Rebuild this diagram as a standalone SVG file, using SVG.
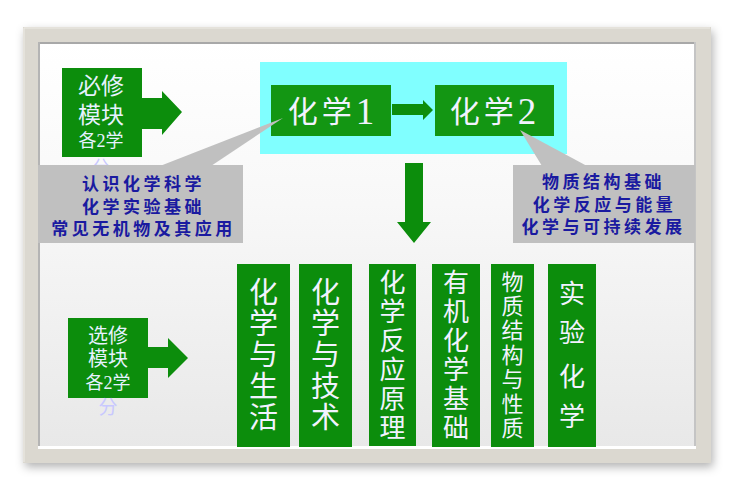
<svg xmlns="http://www.w3.org/2000/svg" width="736" height="492" viewBox="0 0 736 492">
<defs>
<linearGradient id="bg" x1="0" y1="0" x2="0" y2="1">
<stop offset="0" stop-color="#ffffff"/>
<stop offset="0.4" stop-color="#f8f8f8"/>
<stop offset="1" stop-color="#e8e8e8"/>
</linearGradient>
<filter id="sh" x="-5%" y="-5%" width="110%" height="115%">
<feDropShadow dx="2" dy="4" stdDeviation="5" flood-color="#000" flood-opacity="0.3"/>
</filter>
</defs>
<style>
.g{fill:#0c8d0c}
.g2{fill:#139613}
.cal{fill:#c0c0c0}
.w{font-family:"Liberation Serif","Noto Sans CJK SC",serif;fill:#f2f2ff;text-anchor:middle;dominant-baseline:central}
.b{font-family:"Liberation Serif","Noto Sans CJK SC",serif;fill:#1a1aa0;font-weight:bold;font-size:17px;letter-spacing:3.5px;text-anchor:middle;dominant-baseline:central}
.side{font-family:"Liberation Serif","Noto Sans CJK SC",serif;fill:#e6f2ff;text-anchor:middle;dominant-baseline:central}
.fen{font-family:"Liberation Serif","Noto Sans CJK SC",serif;fill:#c8c8ff;text-anchor:middle;dominant-baseline:central;font-size:19px}
</style>
<!-- frame -->
<rect x="23" y="27" width="688" height="436" fill="#dbd8d0" filter="url(#sh)"/>
<rect x="38" y="42" width="658" height="407" fill="url(#bg)"/>
<line x1="38" y1="43" x2="696" y2="43" stroke="#a8a8a8" stroke-width="2"/>
<line x1="39" y1="42" x2="39" y2="449" stroke="#b4b4b4" stroke-width="2"/>
<line x1="695" y1="42" x2="695" y2="449" stroke="#c4c4c4" stroke-width="2"/>
<line x1="38" y1="447.5" x2="696" y2="447.5" stroke="#ffffff" stroke-width="3"/>
<line x1="24" y1="28" x2="710" y2="28" stroke="#eeece6" stroke-width="1"/>
<line x1="24" y1="28" x2="24" y2="462" stroke="#eeece6" stroke-width="1"/>

<rect x="260" y="62" width="307" height="92" fill="#80ffff"/>

<g id="bixiu">
<rect class="g" x="62" y="68" width="80" height="89"/>
<text class="side" x="101" y="86" font-size="23">必修</text>
<text class="side" x="101" y="115" font-size="23">模块</text>
<text class="side" x="101" y="141" font-size="18">各2学</text>
<text class="fen" x="101" y="166" font-size="16" style="font-size:16px">分</text>
</g>

<g id="hx1">
<rect class="g2" x="271" y="85" width="120" height="51"/>
<text class="w" x="333" y="111" font-size="30" letter-spacing="4">化学<tspan font-size="37">1</tspan></text>
</g>
<g id="hx2">
<rect class="g2" x="435" y="85" width="119" height="51"/>
<text class="w" x="495" y="111" font-size="30" letter-spacing="4">化学<tspan font-size="37">2</tspan></text>
</g>

<g id="connectors">
<polygon class="g" points="142,98 162,98 162,91 182,112 162,135 162,129 142,129"/>
<polygon class="g" points="392,104 423,104 423,100 433,110 423,120 423,115 392,115"/>
<polygon class="g" points="405,163 423,163 423,222 431,222 414,243 397,222 405,222"/>
<polygon class="g" points="148,347 168,347 168,338 188,358 168,378 168,368 148,368"/>
<polygon class="cal" points="160,166 283,118 211,166"/>
<polygon class="cal" points="542,166 520,130 587,166"/>
</g>

<g id="callout-left">
<rect class="cal" x="38" y="165" width="205" height="78"/>
<text class="b" x="143.5" y="184">认识化学科学</text>
<text class="b" x="143.5" y="207">化学实验基础</text>
<text class="b" x="143.5" y="229">常见无机物及其应用</text>
</g>
<g id="callout-right">
<rect class="cal" x="513" y="165" width="182" height="78"/>
<text class="b" x="603.5" y="182">物质结构基础</text>
<text class="b" x="604.5" y="205">化学反应与能量</text>
<text class="b" x="603.5" y="227">化学与可持续发展</text>
</g>

<g id="xuanxiu">
<rect class="g" x="68" y="318" width="80" height="80"/>
<text class="side" x="108" y="336" font-size="20">选修</text>
<text class="side" x="108" y="359" font-size="20">模块</text>
<text class="side" x="108" y="383" font-size="18">各2学</text>
<text class="fen" x="108" y="407">分</text>
</g>

<g id="m1">
<rect class="g" x="237" y="264" width="53" height="183"/>
<g class="w" font-size="29">
<text x="263.5" y="293">化</text><text x="263.5" y="324">学</text><text x="263.5" y="355">与</text><text x="263.5" y="387">生</text><text x="263.5" y="418">活</text>
</g>
</g>
<g id="m2">
<rect class="g" x="299" y="264" width="53" height="183"/>
<g class="w" font-size="29">
<text x="325.5" y="293">化</text><text x="325.5" y="324">学</text><text x="325.5" y="355">与</text><text x="325.5" y="387">技</text><text x="325.5" y="418">术</text>
</g>
</g>
<g id="m3">
<rect class="g" x="369" y="264" width="47" height="182"/>
<g class="w" font-size="26">
<text x="392.5" y="283">化</text><text x="392.5" y="312">学</text><text x="392.5" y="341">反</text><text x="392.5" y="370">应</text><text x="392.5" y="399">原</text><text x="392.5" y="428">理</text>
</g>
</g>
<g id="m4">
<rect class="g" x="432" y="264" width="48" height="183"/>
<g class="w" font-size="26">
<text x="456" y="283">有</text><text x="456" y="312">机</text><text x="456" y="341">化</text><text x="456" y="370">学</text><text x="456" y="399">基</text><text x="456" y="428">础</text>
</g>
</g>
<g id="m5">
<rect class="g" x="491" y="264" width="43" height="183"/>
<g class="w" font-size="22">
<text x="512.5" y="282">物</text><text x="512.5" y="306">质</text><text x="512.5" y="330">结</text><text x="512.5" y="355">构</text><text x="512.5" y="379">与</text><text x="512.5" y="404">性</text><text x="512.5" y="428">质</text>
</g>
</g>
<g id="m6">
<rect class="g" x="548" y="264" width="48" height="183"/>
<g class="w" font-size="26">
<text x="572" y="294">实</text><text x="572" y="333">验</text><text x="572" y="377">化</text><text x="572" y="417">学</text>
</g>
</g>
</svg>
